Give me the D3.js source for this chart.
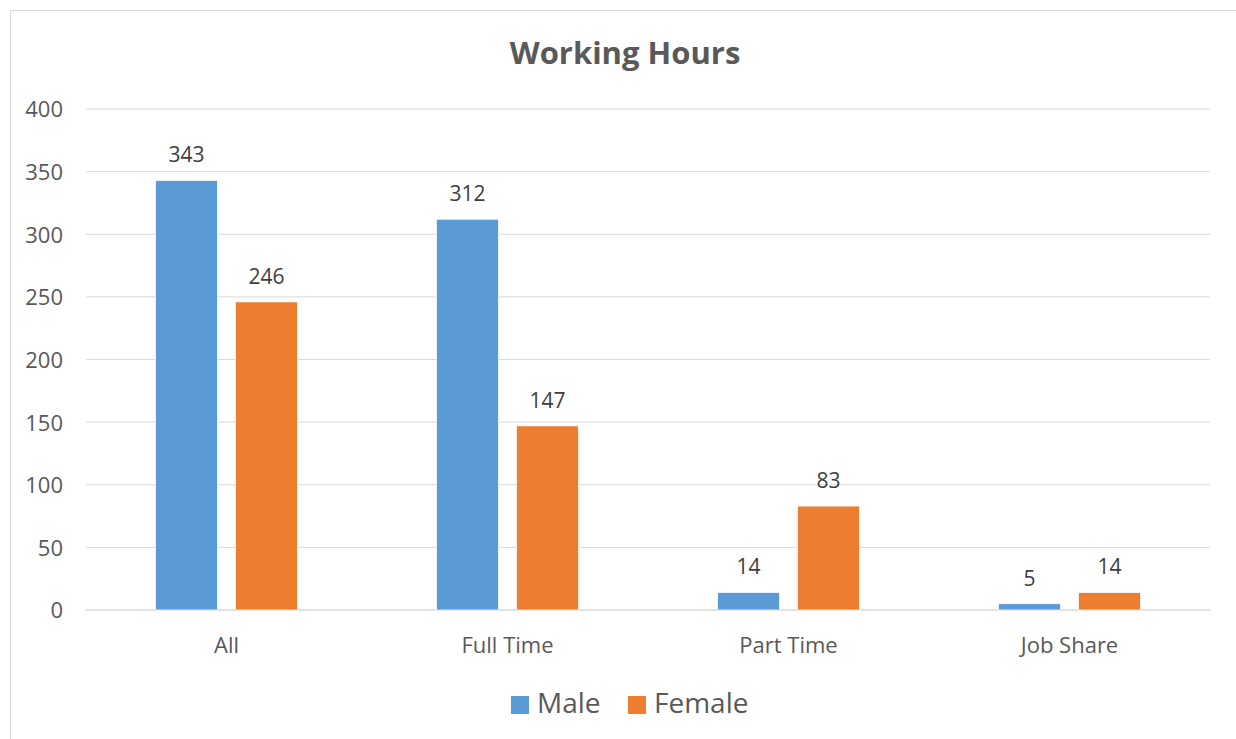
<!DOCTYPE html>
<html>
<head>
<meta charset="utf-8">
<script src="https://cdn.jsdelivr.net/npm/d3@7"></script>
<style>
  body { margin: 0; background: #fff; }
  text { font-family: "Open Sans", sans-serif; }
</style>
</head>
<body>
<script>
//Chart data
var categories = ["All", "Full Time", "Part Time", "Job Share"]
var series = ["Male", "Female"]
var maleValues = [343, 312, 14, 5]
var femaleValues = [246, 147, 83, 14]
var yTicks = [0, 50, 100, 150, 200, 250, 300, 350, 400]
var colors = {"Male": "#5B9BD5", "Female": "#ED7D31"}

var width = 1236, height = 739
var margin = {top: 109, right: 26, bottom: 129, left: 86}

var svg = d3.select("body").append("svg").attr("width", width).attr("height", height)

//Chart border
svg.append("rect").attr("x", 10.5).attr("y", 10.5).attr("width", 1240).attr("height", 740)
    .attr("fill", "#fff").attr("stroke", "#d9d9d9").attr("stroke-width", 1)

//Scales
var x0 = d3.scaleBand().domain(categories).range([margin.left, width - margin.right])
var x1 = d3.scaleBand().domain(series).range([0, 142]).paddingInner(0.225)
var y = d3.scaleLinear().domain([0, 400]).range([height - margin.bottom, margin.top])

//Gridlines
svg.append("g").selectAll("line").data(yTicks).enter().append("line")
    .attr("x1", margin.left).attr("x2", width - margin.right)
    .attr("y1", function(d){return y(d)}).attr("y2", function(d){return y(d)})
    .attr("stroke", "#d9d9d9").attr("stroke-width", function(d){return d == 0 ? 1.5 : 1})

//Y axis labels
var yAxis = svg.append("g").attr("transform", "translate(" + (margin.left - 23) + ",0)")
    .call(d3.axisLeft(y).tickValues(yTicks).tickSize(0).tickPadding(0))
yAxis.select(".domain").remove()
yAxis.selectAll("text").attr("fill", "#595959").style("font-size", "22px").attr("dy", "0.36em")

//X axis labels
var xAxis = svg.append("g").attr("transform", "translate(0," + (y(0) + 27) + ")")
    .call(d3.axisBottom(x0).tickSize(0).tickPadding(0))
xAxis.select(".domain").remove()
xAxis.selectAll("text").attr("fill", "#595959").style("font-size", "22px")

//Bars
var rows = categories.map(function(c, i){
    return {cat: c, values: [{key: "Male", v: maleValues[i]}, {key: "Female", v: femaleValues[i]}]}
})
var groups = svg.append("g").selectAll("g").data(rows).enter().append("g")
    .attr("transform", function(d){return "translate(" + (x0(d.cat) + x0.bandwidth() / 2 - 71) + ",0)"})

groups.selectAll("rect").data(function(d){return d.values}).enter().append("rect")
    .attr("x", function(d){return x1(d.key)})
    .attr("width", x1.bandwidth())
    .attr("y", function(d){return y(d.v)})
    .attr("height", function(d){return y(0) - y(d.v)})
    .attr("fill", function(d){return colors[d.key]})
    .attr("stroke", "#fff").attr("stroke-width", 0.75)

//Value labels
groups.selectAll("text").data(function(d){return d.values}).enter().append("text")
    .attr("x", function(d){return x1(d.key) + x1.bandwidth() / 2})
    .attr("y", function(d){return y(d.v) - 18})
    .attr("text-anchor", "middle")
    .attr("fill", "#404040").style("font-size", "21px")
    .text(function(d){return d.v})

//Title
svg.append("text").attr("x", 625).attr("y", 64).attr("text-anchor", "middle")
    .attr("fill", "#595959").style("font-size", "31px").style("font-weight", "bold")
    .text("Working Hours")

//Legend
var legendX = [511, 628]
var legend = svg.append("g").selectAll("g").data(series).enter().append("g")
    .attr("transform", function(d, i){return "translate(" + legendX[i] + ",696)"})
legend.append("rect").attr("width", 18).attr("height", 18).attr("fill", function(d){return colors[d]})
legend.append("text").attr("x", 26).attr("y", 17).attr("fill", "#595959").style("font-size", "28px")
    .text(function(d){return d})
</script>
</body>
</html>
